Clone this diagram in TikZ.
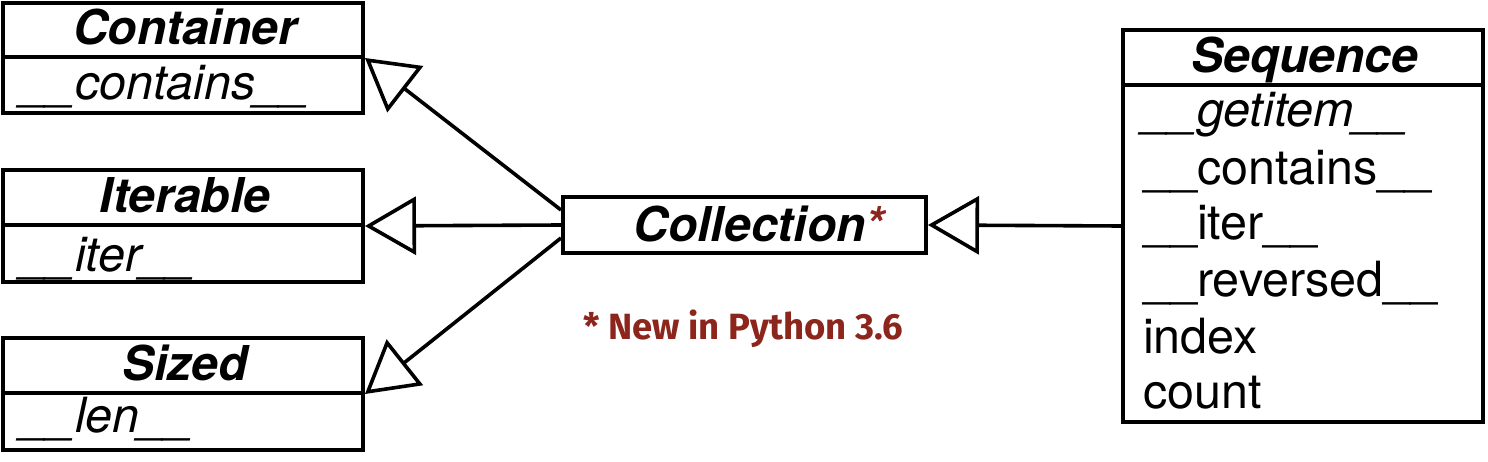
\documentclass[tikz,border=0pt]{standalone}
\usepackage{fontspec}
\setmainfont{TeX Gyre Heros}
\newfontfamily\notefont{Fira Sans}
\usetikzlibrary{arrows.meta}
\definecolor{notered}{RGB}{140,38,28}
\begin{document}
\begin{tikzpicture}[x=1pt,y=-1pt,
  box/.style={draw, line width=4pt, rectangle, inner sep=0pt, minimum width=360pt},
  divider/.style={line width=4pt},
  title/.style={font=\fontsize{48}{56}\selectfont\bfseries\itshape, anchor=base, inner sep=0pt},
  meth/.style={font=\fontsize{48.5}{56}\selectfont, anchor=base west, inner sep=0pt},
  imeth/.style={meth, font=\fontsize{48.5}{56}\selectfont\itshape},
  gen/.style={line width=3.6pt, -{Triangle[open, length=51pt, width=58pt, line width=3.6pt]}},
  note/.style={font=\notefont\bfseries\fontsize{36.5}{40}\selectfont, text=notered, anchor=base west, inner sep=0pt}
]
\useasboundingbox (0,0) rectangle (1488,462);

% Container
\node[box, minimum height=110pt] (container) at (183,58) {};
\draw[divider] ([yshift=1pt]container.west) -- ([yshift=1pt]container.east);
\node[title] (containert) at (185,45) {Container};
\node[imeth] (containerm) at (21,100) {\_\_contains\_\_};

% Iterable
\node[box, minimum height=112pt] (iterable) at (183,226) {};
\draw[divider] ([yshift=1pt]iterable.west) -- ([yshift=1pt]iterable.east);
\node[title] (iterablet) at (185,213) {Iterable};
\node[imeth] (iterablem) at (21,272) {\_\_iter\_\_};

% Sized
\node[box, minimum height=112pt] (sized) at (183,394) {};
\draw[divider] ([yshift=1pt]sized.west) -- ([yshift=1pt]sized.east);
\node[title] (sizedt) at (185,380) {Sized};
\node[imeth] (sizedm) at (21,432) {\_\_len\_\_};

% Collection
\node[box, minimum width=363pt, minimum height=56pt] (collection) at (744.5,225) {};
\node[title] (collectiont) at (759,242) {Collection\textcolor{notered}{*}};

% note
\node[note] (note) at (583,339) {* New in Python 3.6};

% Sequence
\node[box, minimum height=392pt] (sequence) at (1303,226) {};
\draw[divider] ([yshift=141pt]sequence.west) -- ([yshift=141pt]sequence.east);
\node[title] (sequencet) at (1305,73) {Sequence};
\node[imeth] (seqm1) at (1143,127) {\_\_getitem\_\_};
\node[meth] (seqm2) at (1143,185) {\_\_contains\_\_};
\node[meth] (seqm3) at (1143,240) {\_\_iter\_\_};
\node[meth] (seqm4) at (1143,297) {\_\_reversed\_\_};
\node[meth] (seqm5) at (1143,353) {index};
\node[meth] (seqm6) at (1143,408) {count};

% generalizations
\draw[gen] ([yshift=15pt]collection.west) -- (container.east);
\draw[gen] (collection.west) -- (iterable.east);
\draw[gen] ([yshift=-13pt]collection.west) -- (sized.east);
\draw[gen] (sequence.west) -- (collection.east);
\end{tikzpicture}
\end{document}
